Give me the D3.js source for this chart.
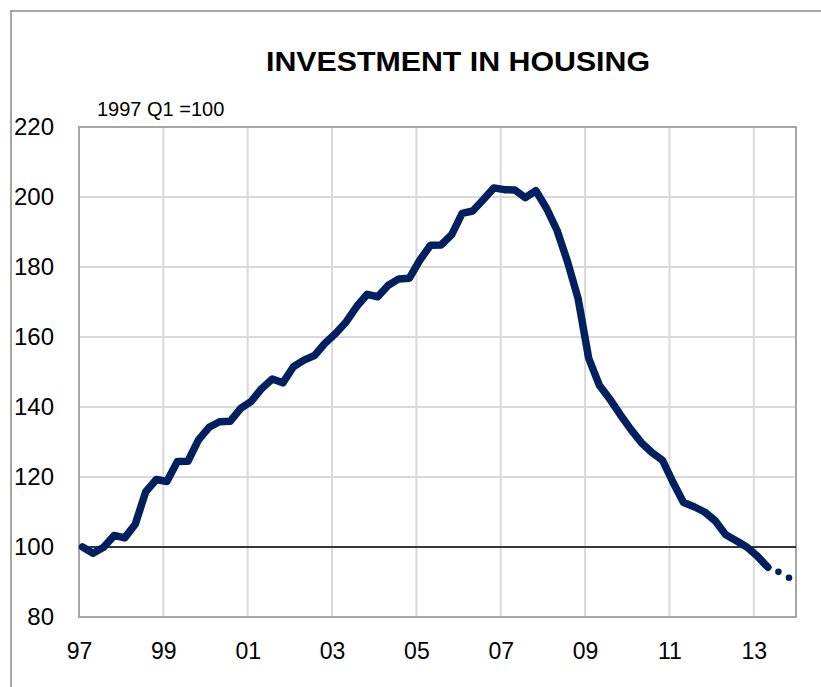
<!DOCTYPE html>
<html>
<head>
<meta charset="utf-8">
<script src="https://cdn.jsdelivr.net/npm/d3@7"></script>
<style>
  body { margin: 0; background: #ffffff; }
  text { font-family: "Liberation Sans", Arial, sans-serif; fill: #000000; }
</style>
</head>
<body>
<div id="canvas"></div>
<script>
// Chart data - quarterly index, 1997 Q1 = 100
let startYear = 1997
let values = [
  100.0, 98.2, 99.9, 103.3, 102.6, 106.5, 115.8, 119.3,
  118.7, 124.4, 124.5, 130.6, 134.2, 135.8, 135.9, 139.6,
  141.6, 145.3, 148.0, 146.9, 151.5, 153.4, 154.7, 158.2,
  161.0, 164.3, 168.7, 172.2, 171.5, 174.8, 176.6, 176.8,
  182.0, 186.2, 186.3, 189.2, 195.3, 196.0, 199.2, 202.6,
  202.1, 202.0, 199.8, 201.8, 196.8, 190.5, 181.5, 171.0,
  154.0, 146.3, 142.3, 137.8, 133.6, 129.8, 127.0, 124.8,
  118.5, 112.7, 111.5, 110.0, 107.5, 103.5, 101.8, 100.0,
  97.4, 94.2
]
// Projection for the last two quarters of 2013
let forecast = [92.9, 91.2]
let xTicks = [1997, 1999, 2001, 2003, 2005, 2007, 2009, 2011, 2013]
let yTicks = [80, 100, 120, 140, 160, 180, 200, 220]
let baseValue = 100

// Each quarter is placed on its middle month (Feb, May, Aug, Nov)
function quarterTime(i) {
  return startYear + Math.floor(i / 4) + ((i % 4) * 3 + 1) / 12
}

let actual = values.map((v, i) => ({ t: quarterTime(i), v: v }))
let projected = forecast.map((v, i) => ({ t: quarterTime(values.length + i), v: v }))

let width = 821
let height = 687
let plot = { left: 79, right: 796, top: 127, bottom: 617 }

let svg = d3.select('#canvas')
    .append('svg')
    .attr('width', width)
    .attr('height', height)
    .style('background', '#ffffff')

let x = d3.scaleLinear()
    .domain([1997, 2014])
    .range([plot.left, plot.right])

let y = d3.scaleLinear()
    .domain([80, 220])
    .range([plot.bottom, plot.top])

// Outer chart frame (top and left edges show)
svg.append('path')
    .attr('d', `M11 ${height} V11 H${width}`)
    .attr('fill', 'none')
    .attr('stroke', '#a6a6a6')
    .attr('stroke-width', 2)

// Title and unit note
svg.append('text')
    .attr('x', 458)
    .attr('y', 71)
    .attr('text-anchor', 'middle')
    .attr('font-size', 28)
    .attr('font-weight', 'bold')
    .attr('textLength', 384)
    .attr('lengthAdjust', 'spacingAndGlyphs')
    .text('INVESTMENT IN HOUSING')

svg.append('text')
    .attr('x', 97)
    .attr('y', 116)
    .attr('font-size', 20)
    .text('1997 Q1 =100')

// Gridlines
svg.append('g')
    .selectAll('line')
    .data(yTicks)
    .join('line')
    .attr('x1', plot.left)
    .attr('x2', plot.right)
    .attr('y1', d => y(d))
    .attr('y2', d => y(d))
    .attr('stroke', '#d9d9d9')
    .attr('stroke-width', 2)

svg.append('g')
    .selectAll('line')
    .data(xTicks)
    .join('line')
    .attr('x1', d => x(d))
    .attr('x2', d => x(d))
    .attr('y1', plot.top)
    .attr('y2', plot.bottom)
    .attr('stroke', '#d9d9d9')
    .attr('stroke-width', 2)

// Plot area border
svg.append('rect')
    .attr('x', plot.left)
    .attr('y', plot.top)
    .attr('width', plot.right - plot.left)
    .attr('height', plot.bottom - plot.top)
    .attr('fill', 'none')
    .attr('stroke', '#a6a6a6')
    .attr('stroke-width', 2)

// Axes - labels only, no domain line or tick marks
let yAxis = svg.append('g')
    .attr('transform', `translate(${plot.left},0)`)
    .call(d3.axisLeft(y).tickValues(yTicks).tickSize(0).tickPadding(25))
yAxis.select('.domain').remove()
yAxis.selectAll('text')
    .attr('font-size', 24)
    .attr('font-family', null)

let xAxis = svg.append('g')
    .attr('transform', `translate(0,${plot.bottom})`)
    .call(d3.axisBottom(x).tickValues(xTicks).tickSize(0).tickPadding(26)
        .tickFormat(d => String(d).slice(2)))
xAxis.select('.domain').remove()
xAxis.selectAll('text')
    .attr('font-size', 23)
    .attr('font-family', null)

// Reference line at 100
svg.append('line')
    .attr('x1', plot.left)
    .attr('x2', plot.right)
    .attr('y1', y(baseValue))
    .attr('y2', y(baseValue))
    .attr('stroke', '#000000')
    .attr('stroke-width', 1.6)

// Main series
let line = d3.line()
    .x(d => x(d.t))
    .y(d => y(d.v))

svg.append('path')
    .datum(actual)
    .attr('d', line)
    .attr('fill', 'none')
    .attr('stroke', '#002060')
    .attr('stroke-width', 7.5)
    .attr('stroke-linejoin', 'round')
    .attr('stroke-linecap', 'round')

// Projected quarters shown as dots
svg.append('g')
    .selectAll('circle')
    .data(projected)
    .join('circle')
    .attr('cx', d => x(d.t))
    .attr('cy', d => y(d.v))
    .attr('r', 3.3)
    .attr('fill', '#002060')
</script>
</body>
</html>
